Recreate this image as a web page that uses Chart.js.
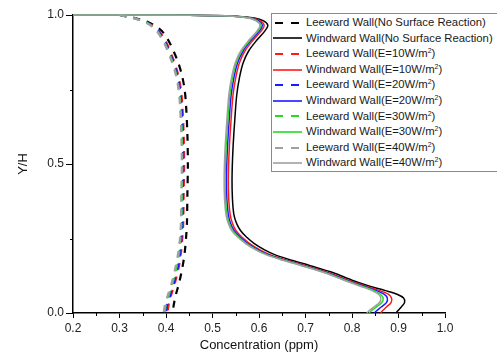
<!DOCTYPE html>
<html>
<head>
<meta charset="utf-8">
<script src="https://cdn.jsdelivr.net/npm/chart.js@4/dist/chart.umd.min.js"></script>
<style>
  html, body { margin: 0; padding: 0; background: #fff; }
  body { width: 497px; height: 360px; overflow: hidden; position: relative; }
  #wrap { position: relative; width: 497px; height: 360px; }
  #legend {
    position: absolute; left: 271px; top: 13px; width: 240px; height: 159px;
    border: 1px solid #8a8a8a; background: #fff; box-sizing: border-box;
    font-family: "Liberation Sans", Arial, sans-serif; font-size: 11.3px; color: #1a1a1a;
    padding-top: 1px;
  }
  .row { height: 15.6px; line-height: 15.6px; white-space: nowrap; display: flex; align-items: center; }
  .row svg { flex: 0 0 auto; margin-left: 1px; margin-right: 4px; }
  .row sup { font-size: 7px; line-height: 0; vertical-align: 4px; }
</style>
</head>
<body>
<div id="wrap">
  <canvas id="c" width="497" height="360"></canvas>
  <div id="legend"></div>
</div>
<script>
// ---- Data ----
const seriesNames = [
  'Leeward Wall(No Surface Reaction)',
  'Windward Wall(No Surface Reaction)',
  'Leeward Wall(E=10W/m²)',
  'Windward Wall(E=10W/m²)',
  'Leeward Wall(E=20W/m²)',
  'Windward Wall(E=20W/m²)',
  'Leeward Wall(E=30W/m²)',
  'Windward Wall(E=30W/m²)',
  'Leeward Wall(E=40W/m²)',
  'Windward Wall(E=40W/m²)'
];

// Y/H levels for the leeward-wall profiles
const leewardY = [1.0, 0.99, 0.976, 0.96, 0.945, 0.92, 0.9, 0.85, 0.8, 0.75, 0.7, 0.6, 0.5, 0.4, 0.3, 0.25, 0.2, 0.15, 0.1, 0.06, 0.03, 0.0];
// Concentration (ppm) of the leeward walls
const leewardNoReaction = [0.30, 0.333, 0.362, 0.38, 0.392, 0.403, 0.41, 0.424, 0.434, 0.44, 0.443, 0.446, 0.447, 0.446, 0.445, 0.443, 0.44, 0.435, 0.428, 0.421, 0.417, 0.414];
const leewardE10 = [0.30, 0.331, 0.358, 0.375, 0.386, 0.396, 0.403, 0.416, 0.426, 0.432, 0.435, 0.438, 0.439, 0.438, 0.437, 0.435, 0.432, 0.427, 0.419, 0.411, 0.406, 0.403];
const leewardE20 = [0.30, 0.33, 0.357, 0.373, 0.384, 0.394, 0.401, 0.414, 0.424, 0.43, 0.433, 0.436, 0.437, 0.436, 0.435, 0.433, 0.43, 0.425, 0.417, 0.409, 0.403, 0.4];
const leewardE30 = [0.30, 0.329, 0.356, 0.372, 0.382, 0.392, 0.399, 0.412, 0.422, 0.428, 0.431, 0.434, 0.435, 0.434, 0.433, 0.431, 0.428, 0.422, 0.414, 0.406, 0.4, 0.397];
const leewardE40 = [0.30, 0.328, 0.355, 0.371, 0.381, 0.391, 0.398, 0.411, 0.421, 0.427, 0.43, 0.433, 0.434, 0.433, 0.432, 0.43, 0.426, 0.42, 0.412, 0.404, 0.398, 0.395];

// Y/H levels for the windward-wall profiles
const windwardY = [1.0, 0.999, 0.996, 0.99, 0.98, 0.965, 0.945, 0.915, 0.88, 0.84, 0.79, 0.73, 0.65, 0.55, 0.45, 0.38, 0.33, 0.3, 0.275, 0.255, 0.233, 0.212, 0.195, 0.178, 0.158, 0.135, 0.11, 0.09, 0.075, 0.063, 0.05, 0.035, 0.02, 0.005, 0.0];
// Concentration (ppm) of the windward walls
const windwardNoReaction = [0.2, 0.45, 0.55, 0.59, 0.61, 0.619, 0.612, 0.595, 0.578, 0.566, 0.558, 0.552, 0.548, 0.544, 0.542, 0.543, 0.546, 0.552, 0.561, 0.573, 0.59, 0.612, 0.635, 0.668, 0.712, 0.76, 0.8, 0.838, 0.872, 0.897, 0.911, 0.913, 0.906, 0.897, 0.895];
const windwardE10 = [0.2, 0.45, 0.548, 0.585, 0.603, 0.611, 0.604, 0.587, 0.57, 0.558, 0.55, 0.544, 0.54, 0.536, 0.534, 0.535, 0.538, 0.543, 0.551, 0.563, 0.58, 0.602, 0.625, 0.658, 0.702, 0.75, 0.792, 0.83, 0.86, 0.878, 0.885, 0.884, 0.874, 0.864, 0.862];
const windwardE20 = [0.2, 0.45, 0.546, 0.582, 0.599, 0.607, 0.6, 0.583, 0.566, 0.554, 0.546, 0.54, 0.536, 0.532, 0.53, 0.531, 0.534, 0.539, 0.547, 0.559, 0.576, 0.598, 0.621, 0.654, 0.698, 0.746, 0.788, 0.825, 0.853, 0.869, 0.876, 0.874, 0.863, 0.851, 0.848];
const windwardE30 = [0.2, 0.45, 0.545, 0.58, 0.596, 0.604, 0.597, 0.58, 0.563, 0.551, 0.543, 0.537, 0.533, 0.529, 0.527, 0.528, 0.531, 0.536, 0.544, 0.556, 0.573, 0.595, 0.618, 0.651, 0.695, 0.743, 0.785, 0.821, 0.847, 0.861, 0.867, 0.864, 0.852, 0.84, 0.837];
const windwardE40 = [0.2, 0.45, 0.544, 0.578, 0.594, 0.602, 0.595, 0.578, 0.561, 0.549, 0.541, 0.535, 0.531, 0.527, 0.525, 0.526, 0.529, 0.534, 0.542, 0.554, 0.571, 0.593, 0.616, 0.649, 0.693, 0.741, 0.783, 0.818, 0.843, 0.857, 0.862, 0.859, 0.847, 0.835, 0.832];

// Axis ticks
const xTickValues = [0.2, 0.3, 0.4, 0.5, 0.6, 0.7, 0.8, 0.9, 1.0];
const xMinorTicks = [0.25, 0.35, 0.45, 0.55, 0.65, 0.75, 0.85, 0.95];
const yTickValues = [0.0, 0.5, 1.0];
const yMinorTicks = [0.25, 0.75];

// ---- Styling ----
const colors = ['#000000', '#000000', '#ff1a1a', '#ff1a1a', '#1a1aff', '#1a1aff', '#22dd22', '#22dd22', '#a0a0a0', '#a0a0a0'];
const seriesX = [leewardNoReaction, windwardNoReaction, leewardE10, windwardE10, leewardE20, windwardE20, leewardE30, windwardE30, leewardE40, windwardE40];
const dashPattern = [7, 7];

const FONT = '"Liberation Sans", Arial, sans-serif';

const datasets = seriesNames.map((name, i) => {
  const isLee = i % 2 === 0;
  const ys = isLee ? leewardY : windwardY;
  return {
    label: name,
    data: seriesX[i].map((x, k) => ({ x: x, y: ys[k] })),
    borderColor: colors[i],
    backgroundColor: colors[i],
    borderWidth: isLee ? 2.2 : 1.5,
    borderDash: isLee ? dashPattern : [],
    pointRadius: 0,
    tension: 0.3,
    fill: false,
    clip: false
  };
});

// draw order: reverse so the first series (black) sits on top like in the reference
const drawOrder = datasets.slice().reverse();

const minorTicks = {
  id: 'minorTicks',
  afterDraw(chart) {
    const ctx = chart.ctx;
    const xs = chart.scales.x, ys = chart.scales.y;
    ctx.save();
    ctx.strokeStyle = '#000';
    ctx.lineWidth = 1;
    ctx.beginPath();
    xMinorTicks.forEach(v => {
      const px = Math.round(xs.getPixelForValue(v)) + 0.5;
      ctx.moveTo(px, xs.top);
      ctx.lineTo(px, xs.top + 3);
    });
    yMinorTicks.forEach(v => {
      const py = Math.round(ys.getPixelForValue(v)) + 0.5;
      ctx.moveTo(ys.right, py);
      ctx.lineTo(ys.right - 3, py);
    });
    ctx.stroke();
    ctx.restore();
  }
};

const chart = new Chart(document.getElementById('c'), {
  type: 'line',
  data: { datasets: drawOrder },
  options: {
    responsive: false,
    animation: false,
    devicePixelRatio: 1,
    layout: { padding: { left: 0, top: 15, right: 52, bottom: 0 } },
    plugins: { legend: { display: false }, tooltip: { enabled: false } },
    scales: {
      x: {
        type: 'linear', min: 0.2, max: 1.0,
        afterBuildTicks: s => { s.ticks = xTickValues.map(v => ({ value: v })); },
        afterFit: s => { s.height = 47; },
        grid: { drawOnChartArea: false, tickLength: 5, tickColor: '#000', tickWidth: 1 },
        border: { display: true, color: '#000', width: 1.5 },
        ticks: { color: '#222', font: { family: FONT, size: 12 }, padding: 3, maxRotation: 0,
                 callback: v => Number(v).toFixed(1) },
        title: { display: true, text: 'Concentration (ppm)', color: '#111',
                 font: { family: FONT, size: 13 }, padding: { top: 0, bottom: 7 } }
      },
      y: {
        type: 'linear', min: 0, max: 1.0,
        afterBuildTicks: s => { s.ticks = yTickValues.map(v => ({ value: v })); },
        afterFit: s => { s.width = 73; },
        grid: { drawOnChartArea: false, tickLength: 7, tickColor: '#000', tickWidth: 1 },
        border: { display: true, color: '#000', width: 1.5 },
        ticks: { color: '#222', font: { family: FONT, size: 12 }, padding: 2,
                 callback: v => Number(v).toFixed(1) },
        title: { display: true, text: 'Y/H', color: '#111',
                 font: { family: FONT, size: 13 }, padding: { top: 16, bottom: 0 } }
      }
    }
  },
  plugins: [minorTicks]
});

// ---- HTML legend built from the datasets ----
const legendEl = document.getElementById('legend');
seriesNames.forEach((name, i) => {
  const isLee = i % 2 === 0;
  const row = document.createElement('div');
  row.className = 'row';
  const svgNS = 'http://www.w3.org/2000/svg';
  const svg = document.createElementNS(svgNS, 'svg');
  svg.setAttribute('width', '29'); svg.setAttribute('height', '8');
  const ln = document.createElementNS(svgNS, 'line');
  ln.setAttribute('x1', isLee ? '2' : '0'); ln.setAttribute('x2', '29');
  ln.setAttribute('y1', '4'); ln.setAttribute('y2', '4');
  ln.setAttribute('stroke', colors[i]);
  ln.setAttribute('stroke-width', isLee ? '2' : '1.6');
  if (isLee) ln.setAttribute('stroke-dasharray', '8 8');
  svg.appendChild(ln);
  row.appendChild(svg);
  const span = document.createElement('span');
  span.innerHTML = name.replace('²', '<sup>2</sup>');
  row.appendChild(span);
  legendEl.appendChild(row);
});
</script>
</body>
</html>
